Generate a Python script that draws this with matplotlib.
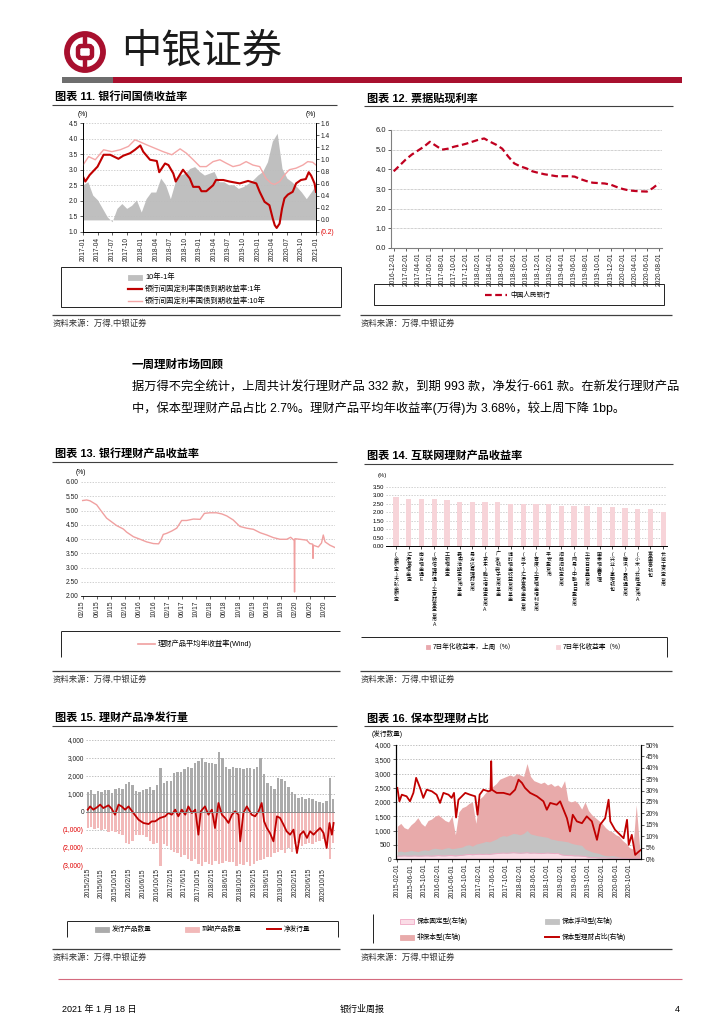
import numpy as np
import matplotlib
matplotlib.use("Agg")
import matplotlib.pyplot as plt
from matplotlib.patches import Rectangle, Circle, FancyBboxPatch

plt.rcParams['font.family'] = ['Liberation Sans', 'Noto Sans CJK SC', 'DejaVu Sans']
plt.rcParams['axes.unicode_minus'] = False

# ---------------- data ----------------
# chart 11: month index 0 = 2017-01
c11_ticks = ['2017-01', '2017-04', '2017-07', '2017-10', '2018-01', '2018-04', '2018-07', '2018-10',
             '2019-01', '2019-04', '2019-07', '2019-10', '2020-01', '2020-04', '2020-07', '2020-10', '2021-01']
spread = [0.58, 0.63, 0.41, 0.33, 0.19, 0.05, -0.03, 0.19, 0.27, 0.19,
          0.24, 0.33, 0.13, 0.35, 0.46, 0.46, 0.69, 0.58, 0.35, 0.63,
          0.74, 0.77, 0.85, 0.88, 0.8, 0.74, 0.77, 0.8, 0.63, 0.63,
          0.58, 0.58, 0.52, 0.55, 0.6, 0.66, 0.74, 0.8, 0.96, 1.3,
          1.43, 0.85, 0.69, 0.63, 0.55, 0.46, 0.35, 0.46, 0.58]
y1_m = [0, 0.48, 1.37, 3.0, 4.24, 5.6, 7.3, 8.3, 9.7, 10.7,
        11.8, 12.4, 13.8, 15.2, 15.7, 16.9, 17.6, 18.6, 19.1, 20.6,
        22.0, 22.7, 23.9, 24.4, 25.4, 26.8, 27.4, 28.9, 30.2, 32.3,
        34.0, 35.7, 36.4, 37.4, 38.4, 39.1, 39.5, 39.9, 40.5, 41.0,
        41.5, 42.2, 43.2, 43.9, 44.9, 45.9, 46.5, 47.0, 47.7, 48.0]
y1 = [2.78, 2.62, 2.83, 3.1, 3.48, 3.48, 3.35, 3.45, 3.53, 3.64,
      3.78, 3.58, 3.32, 3.28, 2.92, 3.2, 3.15, 2.88, 2.62, 3.0,
      2.72, 2.45, 2.45, 2.31, 2.31, 2.5, 2.67, 2.67, 2.62, 2.56,
      2.64, 2.56, 2.29, 1.97, 1.86, 1.43, 1.22, 1.13, 1.27, 1.75,
      2.08, 2.2, 2.29, 2.56, 2.67, 2.7, 2.92, 2.81, 2.56, 2.29]
y10_m = [0, 1.16, 2.53, 4.24, 5.95, 7.66, 9.37, 10.7, 11.8, 13.1,
         14.8, 16.5, 18.3, 20.0, 21.3, 22.7, 24.1, 25.4, 26.8, 28.2,
         29.5, 30.9, 32.3, 33.6, 35.0, 36.4, 37.7, 38.8, 39.5, 40.5,
         41.5, 42.5, 43.9, 45.3, 46.3, 47.3, 48.0]
y10 = [3.15, 3.42, 3.32, 3.64, 3.58, 3.64, 3.75, 3.96, 3.89, 3.8,
       3.69, 3.58, 3.48, 3.67, 3.53, 3.32, 3.1, 3.1, 3.26, 3.32,
       3.21, 3.1, 3.15, 3.26, 3.15, 3.1, 2.72, 2.56, 2.53, 2.62,
       2.83, 3.0, 3.05, 3.15, 3.26, 3.24, 3.15]

# chart 12: monthly, index 0 = 2016-12
c12_ticks = ['2016-12-01', '2017-02-01', '2017-04-01', '2017-06-01', '2017-08-01', '2017-10-01',
             '2017-12-01', '2018-02-01', '2018-04-01', '2018-06-01', '2018-08-01', '2018-10-01',
             '2018-12-01', '2019-02-01', '2019-04-01', '2019-06-01', '2019-08-01', '2019-10-01',
             '2019-12-01', '2020-02-01', '2020-04-01', '2020-06-01', '2020-08-01']
discount = [3.9, 4.2, 4.5, 4.75, 4.95, 5.15, 5.4, 5.2, 5.0, 5.05,
            5.15, 5.22, 5.3, 5.4, 5.5, 5.57, 5.4, 5.25, 5.05, 4.65,
            4.3, 4.15, 4.05, 3.9, 3.82, 3.75, 3.7, 3.65, 3.65, 3.65,
            3.63, 3.5, 3.4, 3.32, 3.3, 3.28, 3.22, 3.1, 3.0, 2.93,
            2.9, 2.88, 2.87, 3.05, 3.3]

# chart 13: month index 0 = 2015-02
c13_ticks = ['02/15', '06/15', '10/15', '02/16', '06/16', '10/16', '02/17', '06/17', '10/17',
             '02/18', '06/18', '10/18', '02/19', '06/19', '10/19', '02/20', '06/20', '10/20']
wm_m = [0, 1.13, 2.07, 3.94, 5.35, 6.76, 8.17, 9.58, 11.46, 12.4,
        14.3, 16.2, 18.0, 19.9, 21.4, 22.0, 22.7, 23.7, 25.1, 26.5,
        27.9, 29.3, 31.2, 33.1, 34.3, 35.9, 37.7, 39.2, 40.6, 42.4,
        44.3, 46.2, 48.1, 50.0, 51.9, 53.7, 55.6, 57.5, 58.6, 59.6,
        59.7, 59.8, 61.2, 63.1, 64.0, 64.8, 64.9, 65.0, 66.4, 67.3,
        67.8, 68.3, 69.7, 71.1]
wm_yield = [5.35, 5.37, 5.34, 5.2, 4.96, 4.73, 4.6, 4.47, 4.35, 4.24,
            4.08, 3.99, 3.9, 3.84, 3.83, 3.95, 4.16, 4.2, 4.28, 4.38,
            4.65, 4.65, 4.7, 4.69, 4.9, 4.92, 4.92, 4.88, 4.81, 4.67,
            4.44, 4.38, 4.34, 4.22, 4.14, 4.05, 3.99, 3.99, 4.06, 3.95,
            2.14, 4.01, 3.99, 3.96, 3.84, 3.82, 3.32, 3.78, 3.72, 3.86,
            4.14, 3.9, 3.78, 3.7]

# chart 14
products = ['(余额宝)天弘余额宝', '汇添富现金宝', '南方现金通E', '(微信理财通)华夏财富宝货币A',
            '工银现金宝', '嘉实活期宝货币基金', '易方达易理财货币', '(京东)鹏华增值宝货币A',
            '广发钱袋子货币基金', '博时现金收益货币基金', '(苏宁)汇添富现金宝货币', '(百度)华夏现金增利货币',
            '平安盈货币', '招商招钱宝货币', '(网易)中融日日盈货币', '华安日日鑫货币',
            '国泰现金管理', '(兴业)掌柜钱包', '(腾讯)零钱通货币', '(小米)云商宝货币A',
            '富国富钱包', '长城工资宝货币']
yield_7d = [2.90, 2.80, 2.78, 2.78, 2.72, 2.60, 2.60, 2.60, 2.60, 2.48, 2.48,
            2.48, 2.48, 2.36, 2.36, 2.36, 2.32, 2.32, 2.28, 2.22, 2.22, 2.00]

# chart 15: month index 0 = 2015-02
c15_ticks = ['2015/2/15', '2015/6/15', '2015/10/15', '2016/2/15', '2016/6/15', '2016/10/15',
             '2017/2/15', '2017/6/15', '2017/10/15', '2018/2/15', '2018/6/15', '2018/10/15',
             '2019/2/15', '2019/6/15', '2019/10/15', '2020/2/15', '2020/6/15', '2020/10/15']
issued = [1100, 1200, 1000, 1150, 1100, 1250, 1200, 1050, 1300, 1350,
          1300, 1550, 1650, 1500, 1150, 1100, 1200, 1300, 1400, 1250,
          1500, 2450, 1600, 1700, 1750, 2150, 2250, 2200, 2400, 2500,
          2450, 2700, 2850, 3000, 2800, 2700, 2750, 2650, 3350, 3000,
          2500, 2400, 2500, 2450, 2450, 2400, 2450, 2450, 2400, 2500,
          3000, 2100, 1600, 1450, 1300, 1900, 1850, 1700, 1400, 1100,
          1000, 800, 850, 700, 800, 700, 600, 550, 500, 600,
          1900, 700]
matured = [-900, -850, -950, -900, -1000, -950, -1100, -1050, -1100, -1200,
           -1300, -1700, -1800, -1600, -1300, -1250, -1300, -1400, -1600, -1800,
           -1700, -3000, -1800, -1900, -2100, -2200, -2300, -2500, -2400, -2600,
           -2700, -2600, -2900, -3000, -2800, -2900, -2950, -2700, -2900, -2850,
           -2700, -2750, -2800, -3000, -2900, -2950, -2800, -3000, -2900, -2700,
           -2650, -2600, -2500, -2500, -2300, -2200, -2100, -2300, -2000, -2200,
           -1800, -1700, -1900, -1800, -1700, -1800, -1650, -1600, -1500, -1700,
           -2600, -1700]
net_m = [0, 0.7, 1.6, 2.6, 3.6, 4.5, 6.0, 6.9, 7.9, 8.9,
         9.8, 10.8, 11.8, 13.2, 14.7, 16.1, 17.6, 18.5, 19.5, 20.9,
         22.4, 23.3, 24.3, 25.3, 26.2, 27.2, 28.2, 29.1, 30.1, 31.1,
         32.0, 32.7, 33.9, 34.9, 35.9, 36.8, 37.8, 38.8, 39.7, 40.7,
         41.7, 42.6, 43.6, 44.1, 45.0, 46.0, 47.4, 48.4, 49.4, 50.3,
         51.0, 51.8, 52.7, 53.7, 54.7, 55.6, 56.6, 57.5, 58.5, 59.5,
         60.5, 61.4, 62.4, 63.4, 64.3, 65.3, 66.2, 67.2, 68.2, 69.1,
         69.9, 70.6, 71.1]
net_issue = [130, 310, 130, 250, 410, 220, 370, 185, -150, 410,
             310, 130, 310, -55, -430, -610, -670, -520, -520, -330,
             -240, -55, -150, 130, -240, 130, -150, 310, -55, 130,
             -1260, 40, 310, -150, 130, -890, 500, -150, -330, -610,
             -150, 40, -150, -1630, -55, 310, -150, -240, 40, 500,
             -520, -890, -1170, -1630, -240, -330, -700, -1070, -1260, -980,
             -2280, -1260, -1070, -1440, -1070, -1260, -1070, -890, -1170, -2000,
             -610, -1260, -610]

# chart 16: month index 0 = 2015-02, stack levels
c16_ticks = ['2015-02-01', '2015-06-01', '2015-10-01', '2016-02-01', '2016-06-01', '2016-10-01',
             '2017-02-01', '2017-06-01', '2017-10-01', '2018-02-01', '2018-06-01', '2018-10-01',
             '2019-02-01', '2019-06-01', '2019-10-01', '2020-02-01', '2020-06-01', '2020-10-01']
fixed_lvl = [100, 100, 110, 100, 100, 110, 100, 100, 110, 110,
             100, 110, 120, 110, 110, 120, 120, 110, 120, 130,
             150, 160, 150, 160, 170, 160, 170, 160, 180, 190,
             200, 210, 200, 210, 220, 210, 200, 210, 220, 200,
             210, 200, 190, 200, 210, 200, 190, 200, 150, 130,
             120, 120, 110, 110, 100, 90, 60, 50, 50, 40,
             40, 40, 30, 30, 30, 30, 20, 20, 20, 20,
             20, 20]
floating_lvl = [260, 280, 250, 270, 300, 280, 260, 300, 320, 300,
                350, 380, 360, 340, 380, 400, 360, 380, 400, 420,
                480, 500, 450, 520, 550, 580, 620, 600, 650, 700,
                780, 820, 800, 850, 900, 880, 850, 900, 1000, 880,
                850, 820, 800, 780, 760, 700, 680, 650, 640, 620,
                600, 550, 520, 500, 480, 350, 300, 250, 220, 200,
                150, 120, 110, 120, 100, 70, 60, 60, 50, 50,
                60, 40]
total_lvl = [1150, 1250, 1100, 1050, 1200, 1300, 1450, 1250, 1150, 1350,
             1400, 1500, 1550, 1450, 1350, 1300, 1500, 850, 1650, 1800,
             1850, 1950, 2000, 1250, 2100, 2200, 2350, 2450, 2550, 2650,
             2800, 2850, 2900, 2950, 2900, 3000, 2950, 2900, 3350, 2900,
             2750, 2700, 2650, 2700, 2600, 2650, 2550, 2600, 2500, 2750,
             2050, 2000, 2050, 1950, 1750, 2000, 1700, 1550, 1450, 1350,
             1250, 1100, 1000, 950, 850, 800, 650, 550, 400, 350,
             1900, 400]
ratio_m = [0, 0.6, 1.3, 2.7, 3.7, 4.7, 5.5, 6.7, 7.6, 8.6,
           10.1, 11.5, 12.5, 13.5, 15.0, 15.9, 16.6, 17.2, 17.9, 18.9,
           19.9, 21.3, 22.8, 23.5, 24.1, 25.2, 26.7, 27.3, 27.5, 27.7,
           29.1, 31.1, 33.0, 34.5, 35.5, 36.5, 37.4, 38.9, 40.9, 42.8,
           43.8, 44.8, 46.7, 47.7, 48.7, 49.7, 50.6, 51.4, 52.6, 54.1,
           55.5, 57.0, 58.5, 59.4, 60.9, 61.9, 62.4, 63.8, 65.3, 66.3,
           67.3, 67.8, 68.7, 69.7, 70.7, 71.4]
guar_ratio = [31.2, 25.3, 28.2, 27.5, 25.3, 29.0, 35.6, 31.0, 26.8, 30.4,
              29.7, 28.2, 24.6, 29.0, 28.2, 26.8, 29.0, 18.2, 26.0, 27.5,
              29.0, 28.2, 27.5, 19.4, 28.2, 30.4, 29.7, 30.0, 42.9, 30.4,
              29.0, 29.0, 28.2, 30.4, 34.8, 33.4, 31.2, 29.0, 27.5, 25.3,
              21.6, 24.6, 23.8, 25.3, 21.6, 17.9, 12.1, 19.4, 16.5, 15.7,
              18.7, 16.5, 8.4, 15.0, 17.9, 26.0, 16.5, 12.8, 10.6, 9.1,
              17.2, 6.2, 10.6, 1.8, 3.2, 4.0]

# ---------------- page ----------------
W, H = 724, 1024
RED = '#C00000'
BRAND = '#A8102E'
GRID = '#BDBDBD'
TS = 4.8

fig = plt.figure(figsize=(7.24, 10.24), dpi=100)
page = fig.add_axes([0, 0, 1, 1])
page.set_xlim(0, W)
page.set_ylim(H, 0)
page.axis('off')


def box(x0, y0, x1, y1):
    return fig.add_axes([x0 / W, 1 - y1 / H, (x1 - x0) / W, (y1 - y0) / H])


def hl(x0, x1, y, color='#404040', lw=0.8):
    page.plot([x0, x1], [y, y], color=color, lw=lw, solid_capstyle='butt')


def vl(x, y0, y1, color='#404040', lw=0.8):
    page.plot([x, x], [y0, y1], color=color, lw=lw, solid_capstyle='butt')


def title(x, y, s, x1):
    page.text(x, y, s, fontsize=8, fontweight='bold', va='center', ha='left')
    hl(x - 3, x1, y + 8)


def source(x, y, x1):
    hl(x, x1, y - 9, color='#404040', lw=0.9)
    page.text(x + 1, y, '资料来源：万得,中银证券', fontsize=6, va='center', color='#333333')


def leg_patch(x, y, label, fc, ec=None, w=14, h=5, fs=TS):
    page.add_patch(Rectangle((x, y - h / 2), w, h, facecolor=fc, edgecolor=ec or fc, lw=0.6))
    page.text(x + w + 3, y, label, fontsize=fs, va='center')


def leg_line(x, y, label, color, lw, ls='-', w=14, fs=TS):
    page.plot([x, x + w], [y, y], color=color, lw=lw, ls=ls)
    page.text(x + w + 3, y, label, fontsize=fs, va='center')


def small_ticks(ax):
    ax.tick_params(labelsize=TS, length=2, width=0.5, pad=1.5, colors='#222222')


# header
page.add_patch(Circle((85, 52), 18, fill=False, ec=BRAND, lw=4.2))
page.add_patch(FancyBboxPatch((78, 46), 14, 12, boxstyle='round,pad=0,rounding_size=3',
                              fill=False, ec=BRAND, lw=3.2))
vl(85, 34, 46, color=BRAND, lw=3.2)
vl(85, 58, 70, color=BRAND, lw=3.2)
page.text(121, 52, '中银证券', fontsize=29, va='center', ha='left', color='#1a1a1a')
page.add_patch(Rectangle((62, 77), 51, 6, color='#6E6E6E', lw=0))
page.add_patch(Rectangle((113, 77), 569, 6, color=BRAND, lw=0))

# footer
hl(58, 682, 979, color='#D46A7E', lw=0.8)
page.text(62, 1009, '2021 年 1 月 18 日', fontsize=6.5, va='center')
page.text(362, 1009, '银行业周报', fontsize=6.5, va='center', ha='center')
page.text(680, 1009, '4', fontsize=6.5, va='center', ha='right')

# text section
page.text(132, 365, '一周理财市场回顾', fontsize=8.3, fontweight='bold', va='center')
page.text(132, 387, '据万得不完全统计，上周共计发行理财产品 332 款，到期 993 款，净发行-661 款。在新发行理财产品',
          fontsize=8.8, va='center')
page.text(132, 408, '中，保本型理财产品占比 2.7%。理财产品平均年收益率(万得)为 3.68%，较上周下降 1bp。',
          fontsize=8.8, va='center')

# ---------------- chart 11 ----------------
title(55, 97, '图表 11. 银行间国债收益率', 337)
ax = box(83, 123, 316, 232)
ax2 = ax.twinx()
m11 = np.arange(len(spread))
ax.fill_between(m11, 0, spread, color='#BFBFBF', lw=0)
ax.set_ylim(-0.2, 1.6)
r_ticks = np.round(np.arange(-0.2, 1.61, 0.2), 1)
ax.set_yticks(r_ticks, [f'({abs(v):.1f})' if v < 0 else f'{v:.1f}' for v in r_ticks])
ax.set_xlim(0, 48)
ax.set_xticks(np.arange(0, 49, 3), c11_ticks, rotation=90)
ax2.grid(axis='y', ls=(0, (2, 2)), color=GRID, lw=0.5)
ax2.plot(y10_m, y10, color='#F4A7A7', lw=1.0)
ax2.plot(y1_m, y1, color=RED, lw=1.5)
ax2.set_ylim(1.0, 4.5)
l_ticks = np.arange(1.0, 4.51, 0.5)
ax2.set_yticks(l_ticks, [f'{v:.1f}' for v in l_ticks])
# gray spread on the right scale, yields on the left scale
ax.yaxis.tick_right()
ax2.yaxis.tick_left()
small_ticks(ax)
small_ticks(ax2)
for t in ax.get_yticklabels():
    if t.get_text().startswith('('):
        t.set_color('#E00000')
for a in (ax, ax2):
    a.spines['top'].set_visible(False)
    for s in ('left', 'right', 'bottom'):
        a.spines[s].set_linewidth(0.6)
page.text(78, 114, '(%)', fontsize=TS, va='center')
page.text(306, 114, '(%)', fontsize=TS, va='center')
page.add_patch(Rectangle((61, 267), 280, 40, fill=False, ec='#222222', lw=0.7))
leg_patch(128, 277, '10年-1年', '#BFBFBF', fs=5.3)
leg_line(128, 289, '银行间固定利率国债到期收益率:1年', RED, 1.6, fs=5.3)
leg_line(128, 301, '银行间固定利率国债到期收益率:10年', '#F4A7A7', 1.0, fs=5.3)
source(52, 324, 340)

# ---------------- chart 12 ----------------
title(367, 98, '图表 12. 票据贴现利率', 673)
ax = box(391, 130, 662, 248)
m12 = np.arange(len(discount))
ax.plot(m12, discount, color='#C00020', lw=1.6, ls=(0, (3, 1.6)))
ax.set_ylim(0, 6)
ax.set_yticks(np.arange(0, 6.1, 1.0), [f'{v:.1f}' for v in np.arange(0, 6.1, 1.0)])
ax.set_xlim(-0.45, 44.5)
ax.set_xticks(np.arange(0, 45, 2), c12_ticks, rotation=90)
ax.grid(axis='y', ls=(0, (1, 1)), color='#A0A0A0', lw=0.5)
ax.spines[['top', 'right']].set_visible(False)
ax.spines['left'].set_color('#808080')
ax.spines['bottom'].set_color('#808080')
small_ticks(ax)
ax.tick_params(axis='y', labelsize=5.5)
page.add_patch(Rectangle((374, 284), 290, 21, fill=False, ec='#222222', lw=0.7))
leg_line(485, 295, '中国人民银行', '#C00020', 1.6, ls=(0, (3, 1.6)), w=22)
source(360, 324, 672)

# ---------------- chart 13 ----------------
title(55, 454, '图表 13. 银行理财产品收益率', 337)
ax = box(81, 482, 335, 596)
ax.plot(wm_m, wm_yield, color='#F0A0A0', lw=1.0)
ax.set_ylim(2.0, 6.0)
ax.set_yticks(np.arange(2.0, 6.01, 0.5), [f'{v:.2f}' for v in np.arange(2.0, 6.01, 0.5)])
ax.set_xlim(-0.47, 71.1)
ax.set_xticks(np.arange(0, 69, 4), c13_ticks, rotation=90)
ax.grid(axis='y', ls=(0, (2, 2)), color=GRID, lw=0.5)
ax.spines[['top', 'right', 'left']].set_visible(False)
ax.spines['bottom'].set_linewidth(0.6)
small_ticks(ax)
ax.tick_params(axis='y', length=0)
page.text(76, 473, '(%)', fontsize=TS, va='center')
hl(61, 340, 631, color='#222222', lw=0.7)
vl(61, 631, 657, color='#222222', lw=0.7)
leg_line(138, 644, '理财产品平均年收益率(Wind)', '#F0A0A0', 1.2, w=17, fs=5.2)
source(52, 680, 340)

# ---------------- chart 14 ----------------
title(367, 456, '图表 14. 互联网理财产品收益率', 673)
ax = box(386, 487, 667, 546)
pos = np.arange(len(yield_7d))
ax.bar(pos, yield_7d, width=0.42, color='#F7D4D9', lw=0)
ax.set_ylim(0, 3.5)
ax.set_yticks(np.arange(0, 3.51, 0.5), [f'{v:.2f}' for v in np.arange(0, 3.51, 0.5)])
ax.set_xlim(-0.79, 21.3)
ax.set_xticks(pos, ['\n'.join(n) for n in products], fontsize=3.6, linespacing=1.0, va='top')
ax.grid(axis='y', ls=(0, (2, 2)), color=GRID, lw=0.5)
ax.set_axisbelow(True)
ax.spines[['top', 'right', 'left']].set_visible(False)
ax.spines['bottom'].set_linewidth(0.7)
ax.tick_params(axis='y', labelsize=4.2, length=0, pad=1.5)
ax.tick_params(axis='x', length=2, width=0.5, pad=2)
page.text(378, 475, '(%)', fontsize=4.2, va='center')
hl(361, 667, 637, color='#222222', lw=0.7)
vl(667, 637, 657, color='#222222', lw=0.7)
leg_patch(426, 647, '7日年化收益率，上周（%）', '#E9A9AE', w=4, h=4)
leg_patch(556, 647, '7日年化收益率（%）', '#F7D4D9', w=4, h=4)
source(360, 680, 672)

# ---------------- chart 15 ----------------
title(55, 718, '图表 15. 理财产品净发行量', 337)
ax = box(86, 740, 335, 866)
m15 = np.arange(len(issued))
ax.bar(m15, issued, width=0.7, color='#ABABAB', lw=0)
ax.bar(m15, matured, width=0.7, color='#F2B9B9', lw=0)
ax.plot(net_m, net_issue, color=RED, lw=1.3)
ax.axhline(0, color='#8C8C8C', lw=0.7)
ax.set_ylim(-3000, 4000)
t15 = np.arange(-3000, 4001, 1000)
ax.set_yticks(t15, [f'({abs(v):,})' if v < 0 else f'{v:,}' for v in t15])
ax.set_xlim(-0.5, 71.5)
ax.set_xticks(np.arange(0, 69, 4), c15_ticks, rotation=90)
ax.grid(axis='y', ls=(0, (2, 2)), color='#A8A8A8', lw=0.5)
ax.set_axisbelow(True)
for s in ax.spines.values():
    s.set_visible(False)
small_ticks(ax)
ax.tick_params(length=0)
for t in ax.get_yticklabels():
    if t.get_text().startswith('('):
        t.set_color('#E00000')
hl(67, 338, 921, color='#222222', lw=0.7)
vl(67, 921, 937, color='#222222', lw=0.7)
vl(338, 921, 937, color='#222222', lw=0.7)
leg_patch(95, 929, '发行产品数量', '#ABABAB')
leg_patch(185, 929, '到期产品数量', '#F2B9B9')
leg_line(267, 929, '净发行量', RED, 1.4)
source(52, 958, 340)

# ---------------- chart 16 ----------------
title(367, 718, '图表 16. 保本型理财占比', 673)
ax = box(396, 745, 641, 859)
m16 = np.arange(len(total_lvl))
ax.fill_between(m16, 0, total_lvl, color='#E8AAAA', lw=0)
ax.fill_between(m16, 0, floating_lvl, color='#C3C3C3', lw=0)
ax.fill_between(m16, 0, fixed_lvl, color='#FADCE6', lw=0)
ax.plot(m16, fixed_lvl, color='#F0A8C4', lw=0.6)
ax.set_ylim(0, 4000)
t16 = np.arange(0, 4001, 500)
ax.set_yticks(t16, [f'{v:,}' for v in t16])
ax.set_xlim(-0.4, 71.4)
ax.set_xticks(np.arange(0, 69, 4), c16_ticks, rotation=90)
ax.grid(axis='y', ls=(0, (2, 2)), color='#A8A8A8', lw=0.5)
ax.set_axisbelow(True)
ax.spines['top'].set_visible(False)
ax2 = ax.twinx()
ax2.plot(ratio_m, guar_ratio, color=RED, lw=1.3)
ax2.set_ylim(0, 50)
t16r = np.arange(0, 51, 5)
ax2.set_yticks(t16r, [f'{v}%' for v in t16r])
ax2.spines['top'].set_visible(False)
small_ticks(ax)
small_ticks(ax2)
page.text(372, 734, '(发行数量)', fontsize=TS, va='center')
vl(373, 914, 943, color='#222222', lw=0.7)
leg_patch(400, 921, '保本固定型(左轴)', '#FADCE6', ec='#F0A8C4')
leg_patch(545, 921, '保本浮动型(左轴)', '#C3C3C3')
leg_patch(400, 937, '非保本型(左轴)', '#E8AAAA')
leg_line(545, 937, '保本型理财占比(右轴)', RED, 1.4)
source(360, 958, 672)

fig.savefig('out.png', dpi=100)
